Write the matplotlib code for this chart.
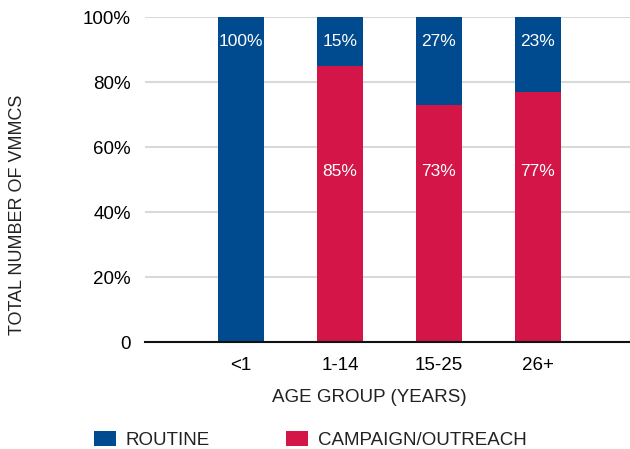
import matplotlib
matplotlib.use("Agg")
import matplotlib.pyplot as plt
from matplotlib.patches import Patch
import numpy as np

AGE_GROUPS = ["<1", "1-14", "15-25", "26+"]
ROUTINE = [100, 15, 27, 23]
CAMPAIGN = [0, 85, 73, 77]

BLUE = "#004B8F"
RED = "#D31548"

plt.rcParams.update({
    "font.family": ["Liberation Sans", "DejaVu Sans"],
    "font.size": 13.5,
    "text.color": "#222222",
})

fig = plt.figure(figsize=(6.3, 4.49), dpi=100)
ax = fig.add_axes([0.230, 0.2383, 0.770, 0.7238])

x = np.arange(len(AGE_GROUPS))
width = 0.465
camp = np.array(CAMPAIGN)
rout = np.array(ROUTINE)

ax.bar(x, camp, width, color=RED, zorder=3)
ax.bar(x, rout, width, bottom=camp, color=BLUE, zorder=3)

# percentage labels inside the bars
for i in range(len(AGE_GROUPS)):
    if rout[i] > 0:
        ax.text(x[i], 92.6, f"{rout[i]}%", ha="center", va="center",
                color="white", fontsize=12.5, zorder=4)
    if camp[i] > 0:
        ax.text(x[i], 52.6, f"{camp[i]}%", ha="center", va="center",
                color="white", fontsize=12.5, zorder=4)

ax.set_xlim(-0.97, 3.93)
ax.set_ylim(0, 100)
ax.set_yticks([0, 20, 40, 60, 80, 100])
ax.set_yticklabels(["0", "20%", "40%", "60%", "80%", "100%"], fontsize=13.5)
ax.set_xticks(x)
ax.set_xticklabels(AGE_GROUPS, fontsize=13.5)
ax.tick_params(axis="y", length=0, pad=10)
ax.tick_params(axis="x", length=0, pad=11)

ax.grid(axis="y", color="#D9D9D9", linewidth=1.5, zorder=0)
for side in ["top", "right", "left"]:
    ax.spines[side].set_visible(False)
ax.spines["bottom"].set_color("#111111")
ax.spines["bottom"].set_linewidth(1.5)
ax.spines["bottom"].set_zorder(5)

fig.text(369 / 630, 1 - 398 / 449, "AGE GROUP (YEARS)", ha="center", va="center",
         fontsize=13.5)
fig.text(18 / 630, 1 - 215 / 449, "TOTAL NUMBER OF VMMCS", rotation=90,
         ha="center", va="center", fontsize=13)

handles = [Patch(facecolor=BLUE, label="ROUTINE"),
           Patch(facecolor=RED, label="CAMPAIGN/OUTREACH")]
fig.legend(handles=handles, loc="center left", bbox_to_anchor=(94 / 630, 1 - 440 / 449),
           ncol=2, frameon=False, borderpad=0, borderaxespad=0,
           handlelength=1.17, handleheight=0.85,
           handletextpad=0.5, columnspacing=4.1, fontsize=13.5)

fig.savefig("out.png", dpi=100, facecolor="white")
